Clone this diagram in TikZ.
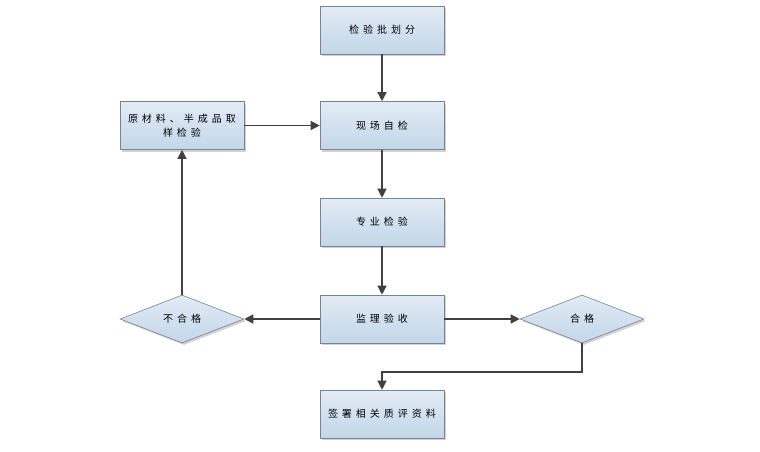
\documentclass[tikz,border=0pt]{standalone}
\usepackage{fontspec}
\setmainfont{Noto Sans CJK SC}[LetterSpace=40]
\usetikzlibrary{shapes.geometric,arrows.meta,shadows}
\definecolor{boxtop}{RGB}{226,236,245}
\definecolor{boxbot}{RGB}{195,214,233}
\definecolor{boxline}{RGB}{120,132,148}
\definecolor{arrowc}{RGB}{64,64,64}
\begin{document}
\begin{tikzpicture}[x=1pt,y=-1pt,
  base/.style={draw=boxline, line width=0.6pt, top color=boxtop, bottom color=boxbot,
    font=\fontsize{10}{14}\selectfont, align=center, inner sep=0pt,
    drop shadow={shadow xshift=2pt, shadow yshift=-2pt, fill=black!30, opacity=0.6}},
  procbox/.style={base, rectangle, minimum width=124pt, minimum height=48pt, text width=120pt},
  decide/.style={base, diamond, aspect=2.6, minimum width=124pt, minimum height=48pt},
  conn/.style={draw=arrowc, line width=1.4pt, -{Triangle[length=9pt,width=9pt]}}]
\useasboundingbox (0,0) rectangle (760,451);
\node[procbox] (a) at (382,30) {检验批划分};
\node[procbox] (b) at (382,125.5) {现场自检};
\node[procbox] (m) at (182,125.5) {原材料、半成品取\\样检验};
\node[procbox] (c) at (382,222) {专业检验};
\node[procbox] (d) at (382,319) {监理验收};
\node[procbox] (e) at (382,414) {签署相关质评资料};
\node[decide] (n) at (182,319) {不合格};
\node[decide] (y) at (582,319) {合格};
\coordinate (k) at (582,372);
\coordinate (k2) at (382,372);
\draw[conn] (a) -- (b);
\draw[conn] (m) -- (b);
\draw[conn] (b) -- (c);
\draw[conn] (c) -- (d);
\draw[conn] (d) -- (n);
\draw[conn] (d) -- (y);
\draw[conn] (n.north) -- (m.south);
\draw[conn] (y.south) -- (k) -- (k2) -- (e.north);
\end{tikzpicture}
\end{document}
